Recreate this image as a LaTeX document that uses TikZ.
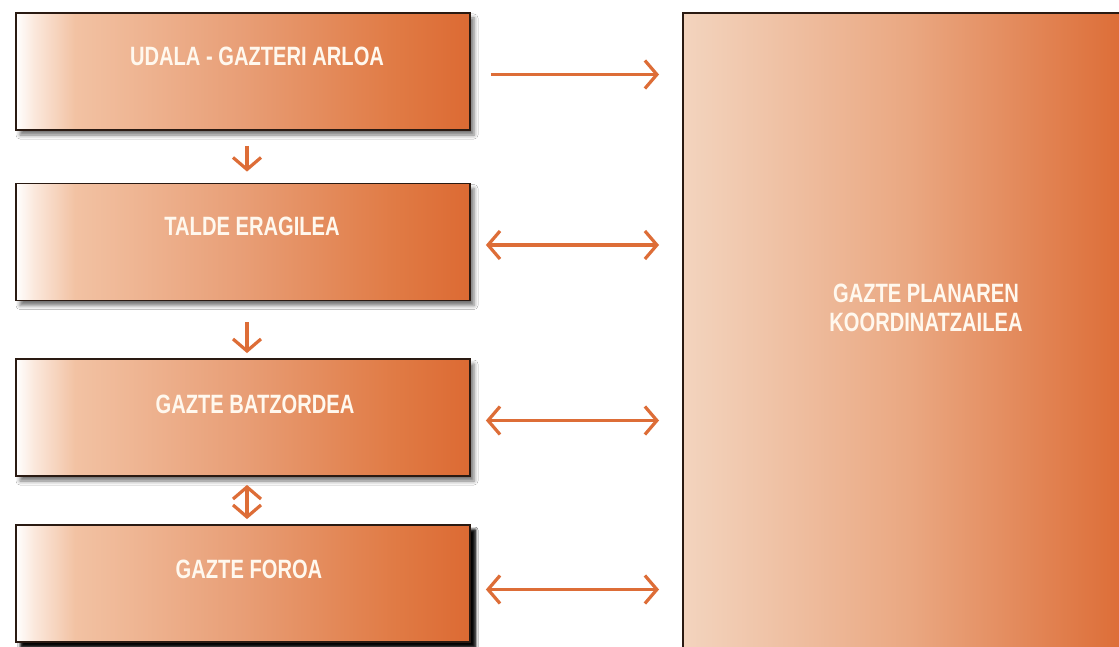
\documentclass[tikz,border=0pt]{standalone}
\usepackage{fontspec}
\newfontfamily\boxfont[FakeStretch=0.76]{Liberation Sans}
\usetikzlibrary{arrows.meta, positioning, shadows.blur}
\definecolor{boxorange}{HTML}{DC6A33}
\definecolor{arroworange}{HTML}{DD6D37}
\definecolor{boxline}{HTML}{2A1A12}
\definecolor{labelwhite}{HTML}{FFF8EE}
\definecolor{shadeA}{HTML}{FBE8DC}
\definecolor{shadeB}{HTML}{F2C2A3}
\definecolor{shadeC}{HTML}{E89E76}
\definecolor{shadeD}{HTML}{E07A44}
\definecolor{bigA}{HTML}{F3D4BE}
\definecolor{bigB}{HTML}{EAA882}

% left boxes: white band on the left, then orange
\pgfdeclarehorizontalshading{leftshade}{100bp}{color(0bp)=(white); color(25bp)=(white);
  color(27bp)=(shadeA); color(31.5bp)=(shadeB); color(50bp)=(shadeC);
  color(67bp)=(shadeD); color(75bp)=(boxorange); color(100bp)=(boxorange)}
% big box on the right
\pgfdeclarehorizontalshading{bigshade}{100bp}{color(0bp)=(bigA); color(25bp)=(bigA);
  color(48bp)=(bigB); color(71bp)=(boxorange); color(100bp)=(boxorange)}

\begin{document}
\begin{tikzpicture}[
    x=1pt, y=-1pt,
    box/.style={draw=boxline, line width=1.8pt, shading=leftshade, minimum width=454pt, minimum height=117pt,
      inner sep=0pt, blur shadow={shadow xshift=4pt, shadow yshift=-5pt, shadow blur radius=4pt, shadow opacity=55}},
    bigbox/.style={draw=boxline, line width=1.8pt, shading=bigshade, minimum width=490pt, minimum height=660pt, inner sep=0pt},
    boxlabel/.style={font=\boxfont\bfseries\fontsize{26.5}{29}\selectfont, text=labelwhite, align=center, inner sep=0pt},
    arrow/.style={draw=arroworange, line width=3.2pt, -{Straight Barb[length=12pt, width=28pt, line width=3.2pt]}},
    twoway/.style={arrow, {Straight Barb[length=12pt, width=28pt, line width=3.2pt]}-{Straight Barb[length=12pt, width=28pt, line width=3.2pt]}},
]
    \clip (0,0) rectangle (1119,647);
    \fill[white] (0,0) rectangle (1119,647);

    % Left column
    \node[box] (udala) at (243,71.5) {};
    \node[box] (talde) at (243,242) {};
    \node[box] (batzordea) at (243,417.5) {};
    \node[box, blur shadow={shadow xshift=5pt, shadow yshift=-5pt, shadow blur radius=3pt, shadow opacity=90}] (foroa) at (243,583.5) {};

    \node[boxlabel] (udalatext) at ([xshift=14pt, yshift=-44pt]udala.north) {UDALA - GAZTERI ARLOA};
    \node[boxlabel] (taldetext) at ([xshift=9pt, yshift=-44pt]talde.north) {TALDE ERAGILEA};
    \node[boxlabel] (batzordeatext) at ([xshift=12pt, yshift=-46pt]batzordea.north) {GAZTE BATZORDEA};
    \node[boxlabel] (forotext) at ([xshift=6pt, yshift=-45pt]foroa.north) {GAZTE FOROA};

    % Right box
    \node[bigbox, anchor=north west] (koord) at (682,12) {};
    \node[boxlabel] (koordtext) at (926,308) {GAZTE PLANAREN\\KOORDINATZAILEA};

    % Vertical arrows
    \draw[arrow, shorten <=15pt, shorten >=11pt] ([xshift=4pt]udala.south) -- ([xshift=4pt]talde.north);
    \draw[arrow, shorten <=21pt, shorten >=5pt] ([xshift=4pt]talde.south) -- ([xshift=4pt]batzordea.north);
    \draw[twoway, shorten <=8pt, shorten >=5pt] ([xshift=4pt]batzordea.south) -- ([xshift=4pt]foroa.north);

    % Horizontal arrows
    \draw[arrow, shorten <=20pt, shorten >=23pt] ([yshift=-3pt]udala.east) -- ([yshift=-3pt]udala.east -| koord.west);
    \draw[twoway, shorten <=15pt, shorten >=23pt] ([yshift=-3pt]talde.east) -- ([yshift=-3pt]talde.east -| koord.west);
    \draw[twoway, shorten <=15pt, shorten >=23pt] ([yshift=-3pt]batzordea.east) -- ([yshift=-3pt]batzordea.east -| koord.west);
    \draw[twoway, shorten <=15pt, shorten >=23pt] ([yshift=-6pt]foroa.east) -- ([yshift=-6pt]foroa.east -| koord.west);
\end{tikzpicture}
\end{document}
